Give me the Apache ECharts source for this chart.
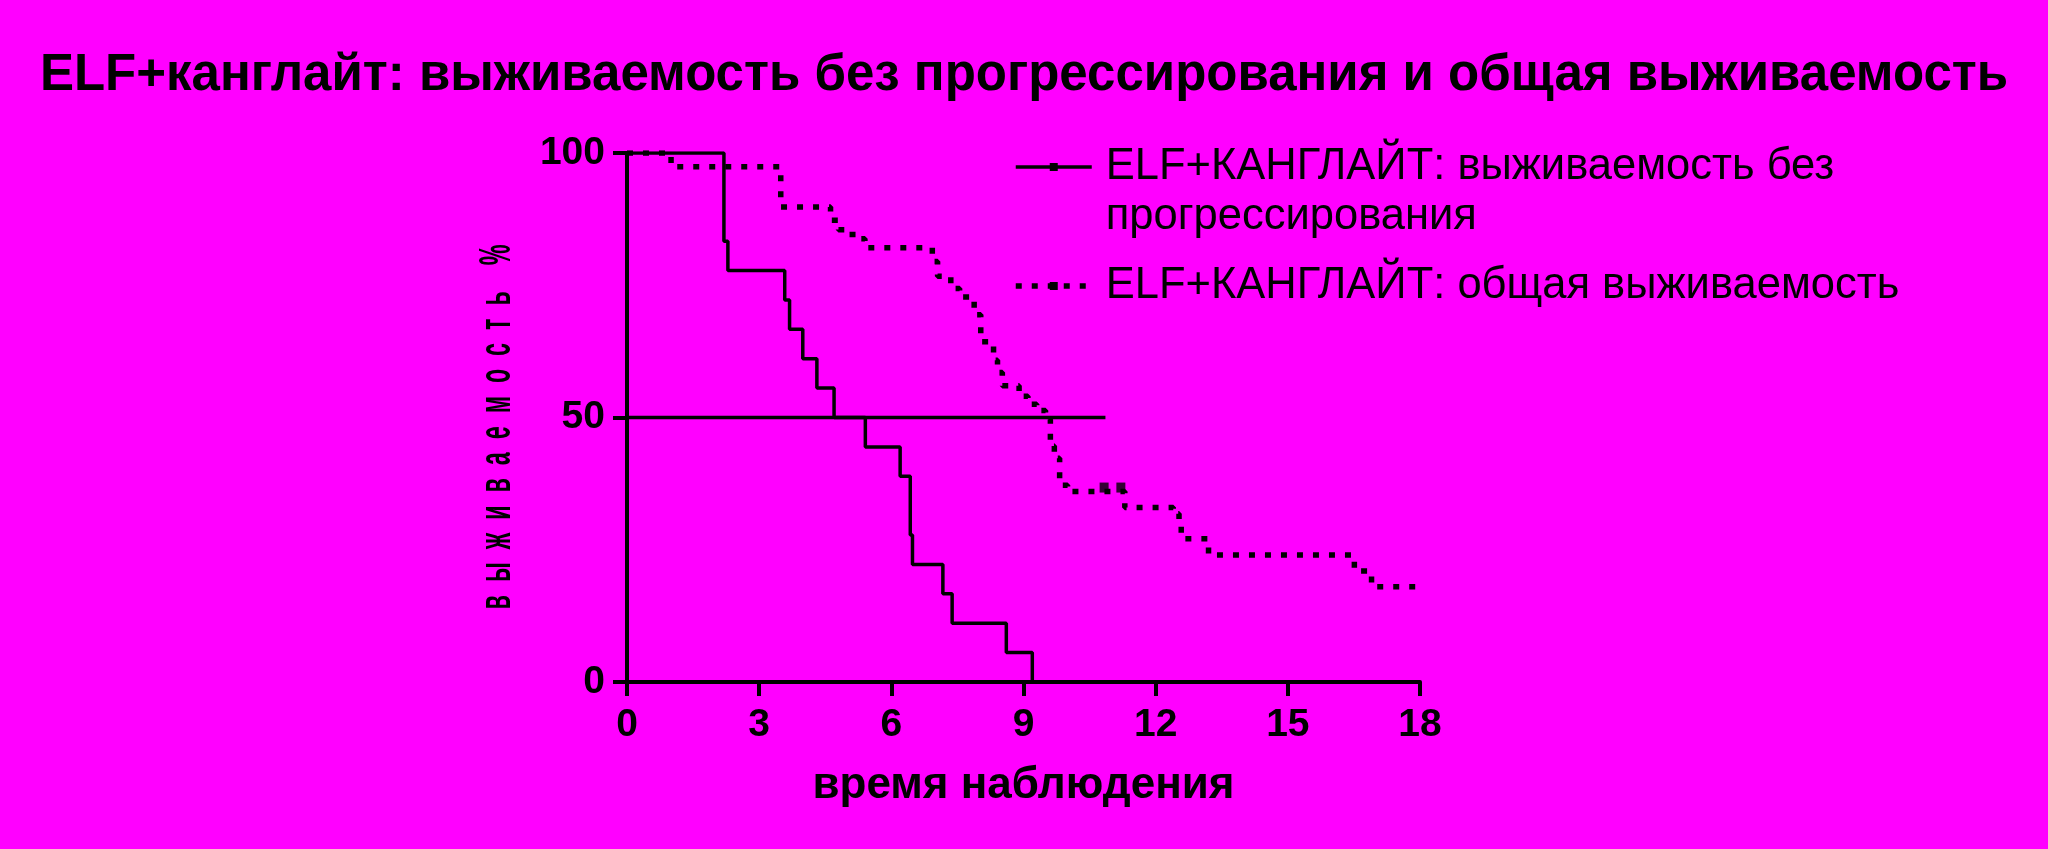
<!DOCTYPE html>
<html>
<head>
<meta charset="utf-8">
<script src="https://cdn.jsdelivr.net/npm/echarts@6/dist/echarts.min.js"></script>
<style>
html,body{margin:0;padding:0;background:#FF00FF;}
#chart{width:2048px;height:849px;}
</style>
</head>
<body>
<div id="chart"></div>
<script>
// ---- data ----
var titleText = 'ELF+канглайт: выживаемость без прогрессирования и общая выживаемость';
var xTicks = [0, 3, 6, 9, 12, 15, 18];
var yTicks = [0, 50, 100];
var seriesNames = ['ELF+КАНГЛАЙТ: выживаемость без прогрессирования', 'ELF+КАНГЛАЙТ: общая выживаемость'];
// progression-free survival: [time, survival % after the drop]
var pfsTimes  = [0, 2.2, 2.29, 3.58, 3.69, 3.99, 4.31, 4.70, 5.41, 6.20, 6.43, 6.48, 7.17, 7.38, 8.61, 9.20];
var pfsValues = [100, 83.3, 77.8, 72.2, 66.7, 61.1, 55.6, 50.0, 44.4, 38.9, 27.8, 22.2, 16.7, 11.1, 5.6, 0];
// overall survival
var osTimes  = [0, 1.0, 3.49, 4.62, 4.8, 5.05, 5.3, 5.4, 6.93, 7.05, 7.35, 7.55, 7.88, 8.03, 8.32, 8.41, 8.52, 8.9, 9.1, 9.3, 9.5, 9.61, 9.7, 9.82, 10.0, 11.3, 12.4, 12.53, 12.58, 13.2, 16.51, 16.9, 17.95];
var osValues = [100, 97.4, 89.8, 87.3, 85.5, 84.6, 83.8, 82.1, 79.5, 76.7, 74.4, 72.8, 69.4, 64.3, 60.8, 58.5, 56.0, 54.0, 52.5, 51.3, 49.6, 44.6, 42.3, 37.2, 36.0, 33.0, 31.8, 29.5, 27.1, 24.0, 21.0, 18.0, 18.0];
// censored observations on the overall survival curve
var osCensorTimes  = [10.83, 11.21];
var osCensorValues = [36.0, 36.0];
// median reference line
var medianTimes  = [0, 10.86];
var medianValues = [50, 50];

function zip(a, b) { return a.map(function (v, i) { return [v, b[i]]; }); }

var FONT = 'Liberation Sans, Arial, sans-serif';
var chart = echarts.init(document.getElementById('chart'), null, {renderer: 'canvas'});

var yTitle = 'в  ы  ж  и  в  а  е  м  о  с  т  ь    %';

chart.setOption({
  backgroundColor: '#FF00FF',
  animation: false,
  title: {
    text: titleText,
    left: 'center',
    top: 45,
    textStyle: {fontFamily: FONT, fontSize: 51, fontWeight: 'bold', color: '#000'}
  },
  grid: {left: 627, right: 628, top: 153, bottom: 167, containLabel: false},
  xAxis: {
    type: 'value', min: 0, max: 18, interval: 3,
    name: 'время наблюдения', nameLocation: 'middle', nameGap: 82,
    nameTextStyle: {fontFamily: FONT, fontSize: 44, fontWeight: 'bold', color: '#000'},
    axisLine: {show: true, lineStyle: {color: '#000', width: 4}},
    axisTick: {show: true, length: 14, lineStyle: {color: '#000', width: 4}},
    axisLabel: {fontFamily: FONT, fontSize: 39, fontWeight: 'bold', color: '#000', margin: 24,
      formatter: function (v) { return xTicks.indexOf(v) >= 0 ? String(v) : ''; }},
    splitLine: {show: false}
  },
  yAxis: {
    type: 'value', min: 0, max: 100, interval: 50,
    axisLine: {show: true, lineStyle: {color: '#000', width: 4}},
    axisTick: {show: true, length: 14, lineStyle: {color: '#000', width: 4}},
    axisLabel: {fontFamily: FONT, fontSize: 39, fontWeight: 'bold', color: '#000', margin: 22,
      formatter: function (v) { return yTicks.indexOf(v) >= 0 ? String(v) : ''; }},
    splitLine: {show: false}
  },
  legend: {
    orient: 'vertical', left: 1013, top: 92, padding: 0, itemGap: 19,
    itemWidth: 76, itemHeight: 10,
    data: [
      {name: seriesNames[0], lineStyle: {width: 3.5, type: 'solid', color: '#000'}},
      {name: seriesNames[1], lineStyle: {width: 5.5, type: [6, 10], color: '#000'}}
    ],
    formatter: function (n) {
      return n === seriesNames[0] ? '\nELF+КАНГЛАЙТ: выживаемость без\nпрогрессирования' : n;
    },
    textStyle: {fontFamily: FONT, fontSize: 43.5, color: '#000', lineHeight: 50, padding: [0, 0, 0, 9]}
  },
  graphic: [{
    type: 'text', x: 498, y: 427, rotation: Math.PI / 2, scaleX: 0.53, scaleY: 1,
    style: {text: yTitle, font: 'bold 44px ' + FONT, fill: '#000', align: 'center', verticalAlign: 'middle'}
  }],
  series: [
    {
      name: seriesNames[0], type: 'line', step: 'end',
      data: zip(pfsTimes, pfsValues),
      symbol: 'rect', symbolSize: 8, showSymbol: false,
      itemStyle: {color: '#000'},
      lineStyle: {color: '#000', width: 3.5, type: 'solid', cap: 'butt'},
      z: 3
    },
    {
      name: seriesNames[1], type: 'line', step: 'end',
      data: zip(osTimes, osValues),
      symbol: 'rect', symbolSize: 8, showSymbol: false,
      itemStyle: {color: '#000'},
      lineStyle: {color: '#000', width: 5.5, type: [6, 10], cap: 'butt'},
      z: 2
    },
    {
      name: 'censored', type: 'scatter',
      data: zip(osCensorTimes, osCensorValues),
      symbol: 'rect', symbolSize: [9, 10], symbolOffset: [0, -4],
      itemStyle: {color: '#000'},
      z: 4
    },
    {
      name: 'median', type: 'line',
      data: zip(medianTimes, medianValues),
      symbol: 'none',
      lineStyle: {color: '#000', width: 3.5},
      z: 3
    }
  ]
});
</script>
</body>
</html>
